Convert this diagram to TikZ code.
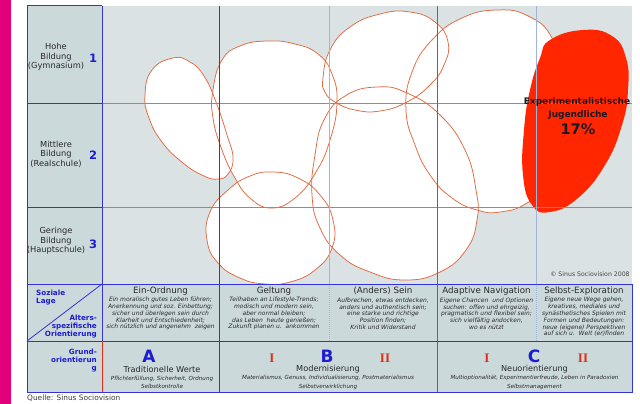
\documentclass[tikz,border=0pt]{standalone}
\usepackage{fontspec}
\setmainfont{DejaVu Sans}
\newfontfamily\romfont{Liberation Serif}
\definecolor{pinkbar}{RGB}{226,0,122}
\definecolor{mainbg}{RGB}{219,226,228}
\definecolor{sidebg}{RGB}{204,217,219}
\definecolor{frameblue}{RGB}{52,52,210}
\definecolor{midblue}{RGB}{70,100,215}
\definecolor{gridlb}{RGB}{95,150,225}
\definecolor{gridpl}{RGB}{160,180,220}
\definecolor{blobline}{RGB}{226,104,64}
\definecolor{blobred}{RGB}{255,38,0}
\definecolor{labelblue}{RGB}{28,28,210}
\definecolor{txtgray}{RGB}{40,40,40}
\definecolor{romred}{RGB}{228,44,20}
\newcommand{\fsz}[2]{\fontsize{#1}{#2}\selectfont}
\newcommand{\blobA}{plot[smooth cycle,tension=0.8] coordinates {(173,58) (190,62) (204,76) (216,102) (227,135) (233,158) (228,174) (218,179) (204,176) (183,163) (162,142) (149,118) (145,95) (152,70)}}
\newcommand{\blobB}{plot[smooth cycle,tension=0.8] coordinates {(213,90) (222,60) (240,46) (267,41) (295,44) (318,54) (332,74) (337,103) (330,140) (316,172) (295,198) (271,208) (250,198) (235,178) (222,150) (213,118)}}
\newcommand{\blobC}{plot[smooth cycle,tension=0.8] coordinates {(323,78) (330,50) (350,27) (380,14) (410,12) (435,22) (448,42) (444,65) (430,85) (407,102) (380,111) (355,110) (335,102) (325,92)}}
\newcommand{\blobD}{plot[smooth cycle,tension=0.8] coordinates {(377,87) (407,93) (440,115) (465,150) (476,190) (477,220) (466,250) (440,272) (405,280) (370,272) (340,255) (320,228) (312,195) (315,155) (324,120) (345,96)}}
\newcommand{\blobE}{plot[smooth cycle,tension=0.8] coordinates {(497,10) (528,16) (552,38) (563,80) (562,130) (550,180) (527,203) (500,212) (477,210) (452,198) (430,175) (415,145) (406,110) (412,72) (432,40) (462,18)}}
\newcommand{\blobF}{plot[smooth cycle,tension=0.8] coordinates {(273,172) (298,178) (320,195) (333,220) (332,248) (315,270) (290,282) (265,284) (240,278) (218,263) (207,240) (210,212) (228,190) (250,176)}}
\newcommand{\blobR}{plot[smooth cycle,tension=0.8] coordinates {(550,40) (583,30) (612,36) (626,58) (628,90) (622,125) (605,165) (578,198) (550,212) (532,205) (523,175) (524,130) (530,90) (540,58)}}
\begin{document}
\begin{tikzpicture}[x=1pt,y=-1pt,
  blobedge/.style={draw=blobline,line width=0.75pt},
  frame/.style={draw=frameblue,line width=1pt},
  gridlight/.style={draw=gridlb,line width=1pt},
  gridpale/.style={draw=gridpl,line width=1pt},
  lbl/.style={inner sep=0pt,text=txtgray},
  rowlbl/.style={lbl,align=center,font=\fsz{8.3}{9.5}},
  num/.style={inner sep=0pt,text=labelblue,font=\fsz{11.5}{11.5}\bfseries},
  bluehead/.style={inner sep=0pt,text=labelblue,font=\fsz{7.2}{8}\bfseries},
  colhead/.style={lbl,font=\fsz{8.7}{9}},
  desc/.style={lbl,align=center,font=\fsz{6}{6.8}\itshape},
  bigletter/.style={inner sep=0pt,text=labelblue,font=\fsz{17}{17}\bfseries},
  roman/.style={inner sep=0pt,text=romred,font=\fsz{13}{13}\romfont\bfseries},
  ornt/.style={lbl,font=\fsz{8.2}{9}},
  orntdesc/.style={lbl,align=center,font=\fsz{5.6}{8.5}\itshape},
  exptext/.style={inner sep=0pt,text={rgb,255:red,25;green,25;blue,35},font=\fsz{9}{10}\bfseries},
]
\useasboundingbox (0,0) rectangle (640,404);
\fill[white] (0,0) rectangle (640,404);
% pink bar
\fill[pinkbar] (0,0) rectangle (11,404);
% backgrounds
\fill[mainbg] (102,6) rectangle (632,284);
\fill[sidebg] (27,6) rectangle (102,284);
\fill[sidebg] (27,284) rectangle (632,392);
% blobs: fills then outlines
\path[fill=white] \blobA;
\path[fill=white] \blobB;
\path[fill=white] \blobC;
\path[fill=white] \blobD;
\path[fill=white] \blobE;
\path[fill=white] \blobF;
\path[blobedge] \blobA;
\path[blobedge] \blobB;
\path[blobedge] \blobC;
\path[blobedge] \blobD;
\path[blobedge] \blobE;
\path[blobedge] \blobF;
\path[fill=blobred] \blobR;
% grid in main area
\draw[gridlight] (102,103.5) -- (632,103.5);
\draw[gridlight] (102,207.5) -- (632,207.5);
\draw[gridpale] (329.5,6) -- (329.5,284);
\draw[gridpale] (536.5,6) -- (536.5,284);
\draw[gridpale,densely dotted] (329.5,284) -- (329.5,341);
\draw[gridpale,densely dotted] (536.5,284) -- (536.5,341);
\draw[draw=frameblue,line width=1pt] (219.5,6) -- (219.5,392);
\draw[draw=midblue,line width=1pt] (437.5,6) -- (437.5,392);
% frame
\draw[frame] (102,6) -- (27,6) -- (27,392) -- (632,392) -- (632,284);
\draw[frame] (27,103.5) -- (102,103.5);
\draw[frame] (27,207.5) -- (102,207.5);
\draw[frame] (27,284) -- (632,284);
\draw[frame] (27,341) -- (632,341);
\draw[frame] (102,6) -- (102,341);
\draw[draw=romred,line width=0.8pt] (102,341) -- (102,392);
\draw[draw=frameblue,line width=0.8pt] (27,341) -- (102,284);
% left column labels
\node[rowlbl] (hohe) at (56,57) {Hohe\\Bildung\\(Gymnasium)};
\node[num] (n1) at (93,58) {1};
\node[rowlbl] (mittel) at (56,154) {Mittlere\\Bildung\\(Realschule)};
\node[num] (n2) at (93,155) {2};
\node[rowlbl] (gering) at (56,241) {Geringe\\Bildung\\(Hauptschule)};
\node[num] (n3) at (93,244) {3};
\node[bluehead,anchor=west,align=left] (soz) at (36,297.5) {Soziale\\Lage};
\node[bluehead,anchor=east,align=right] (alt) at (97,326.5) {Alters-\\spezifische\\Orientierung};
\node[bluehead,anchor=east,align=right] (grund) at (97,361) {Grund-\\orientierun\\g};
% column heads
\node[colhead] (h1) at (160.5,291) {Ein-Ordnung};
\node[colhead] (h2) at (274,291) {Geltung};
\node[colhead] (h3) at (383,291) {(Anders) Sein};
\node[colhead] (h4) at (486.5,291) {Adaptive Navigation};
\node[colhead] (h5) at (584,291) {Selbst-Exploration};
\node[desc] (d1) at (160.5,313.6) {Ein moralisch gutes Leben führen;\\Anerkennung und soz. Einbettung;\\sicher und überlegen sein durch\\Klarheit und Entschiedenheit;\\sich nützlich und angenehm\ \ zeigen};
\node[desc] (d2) at (274,313.6) {Teilhaben an Lifestyle-Trends;\\modisch und modern sein,\\aber normal bleiben;\\das Leben\ \ heute genießen;\\Zukunft planen u.\ \ ankommen};
\node[desc] (d3) at (383,313.6) {Aufbrechen, etwas entdecken,\\anders und authentisch sein;\\eine starke und richtige\\Position finden;\\Kritik und Widerstand};
\node[desc] (d4) at (486.5,313.6) {Eigene Chancen\ \ und Optionen\\suchen: offen und ehrgeizig,\\pragmatisch und flexibel sein;\\sich vielfältig andocken,\\wo es nützt};
\node[desc] (d5) at (584,317) {Eigene neue Wege gehen,\\kreatives, mediales und\\synästhetisches Spielen mit\\Formen und Bedeutungen:\\neue (eigene) Perspektiven\\auf sich u.\ \ Welt (er)finden};
% basic orientation row
\node[bigletter] (la) at (149,356) {A};
\node[ornt] (oa) at (162,369) {Traditionelle Werte};
\node[orntdesc] (da) at (162,382.5) {Pflichterfüllung, Sicherheit, Ordnung\\Selbstkontrolle};
\node[roman] (ra1) at (272,358) {I};
\node[bigletter] (lb) at (327,356) {B};
\node[roman] (rb2) at (385,358) {II};
\node[ornt] (ob) at (328,369) {Modernisierung};
\node[orntdesc] (db) at (328,382.5) {Materialismus, Genuss, Individualisierung, Postmaterialismus\\Selbstverwirklichung};
\node[roman] (rc1) at (487,358) {I};
\node[bigletter] (lc) at (534,356) {C};
\node[roman] (rc2) at (583,358) {II};
\node[ornt] (oc) at (534.5,369) {Neuorientierung};
\node[orntdesc] (dc) at (534.5,382.5) {Multioptionalität, Experimentierfreude, Leben in Paradoxien\\Selbstmanagement};
% red blob text
\node[exptext] (e1) at (577,102) {Experimentalistische};
\node[exptext] (e2) at (578,115) {Jugendliche};
\node[exptext,font=\fsz{14.5}{15}\bfseries] (e3) at (578,129) {17\%};
% credits
\node[inner sep=0pt,text={rgb,255:red,70;green,70;blue,70},font=\fsz{6.2}{7}] (copy) at (590,274) {© Sinus Sociovision 2008};
\node[inner sep=0pt,anchor=west,text={rgb,255:red,60;green,60;blue,60},font=\fsz{7.4}{8}] (quelle) at (27,398.5) {Quelle: Sinus Sociovision};
\end{tikzpicture}
\end{document}
